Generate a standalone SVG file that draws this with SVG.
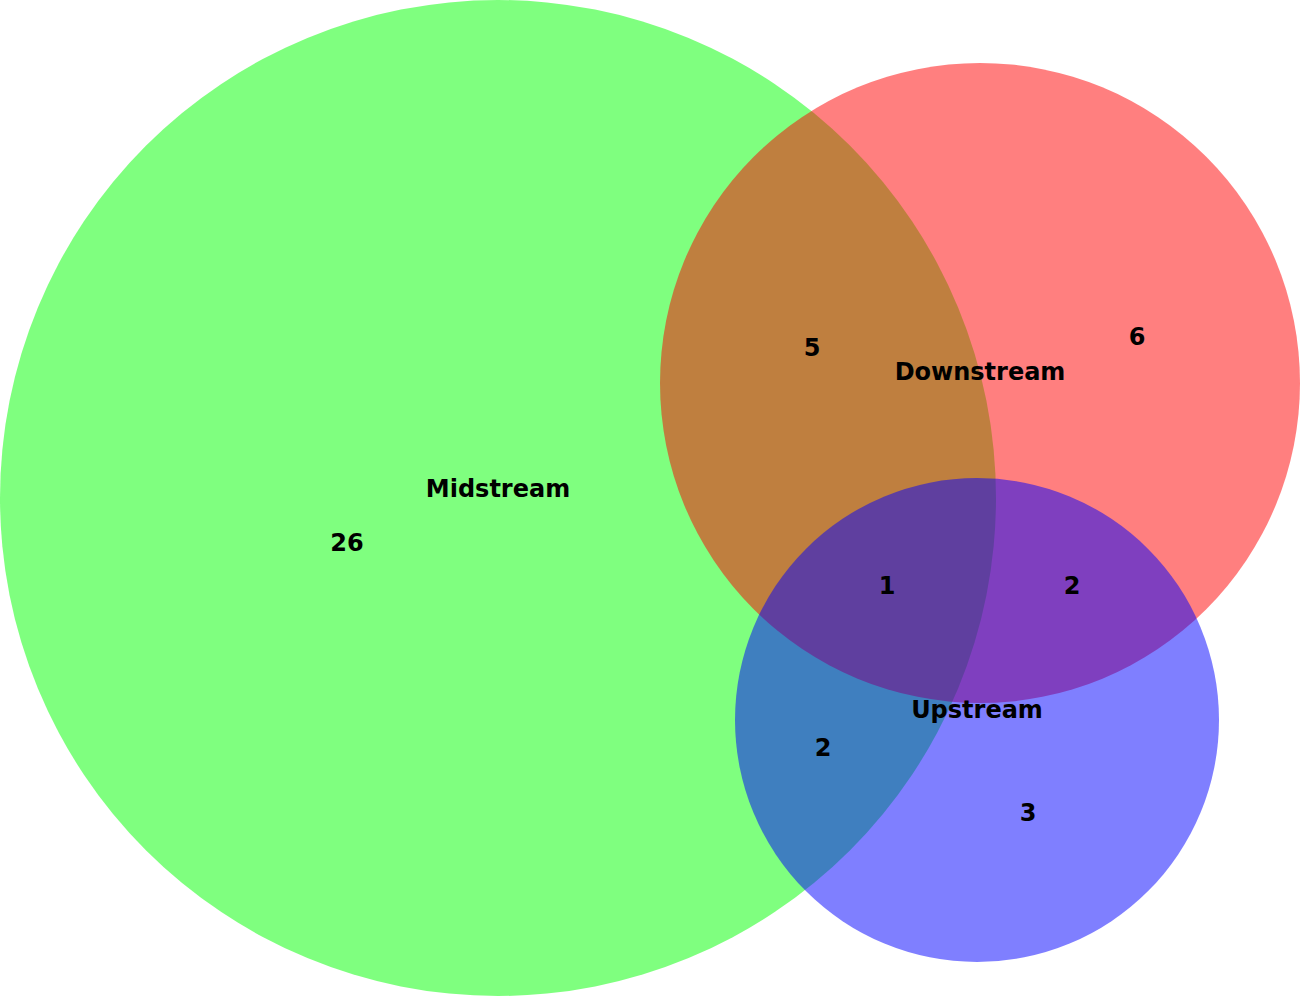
<svg xmlns="http://www.w3.org/2000/svg" width="1300" height="998" viewBox="0 0 1300 998">
<style>
text{font-family:"DejaVu Sans",Verdana,sans-serif;font-weight:bold;font-size:24px;fill:#000;text-anchor:middle;dominant-baseline:middle}
</style>
<rect width="1300" height="998" fill="#fff"/>
<g id="midstream"><circle cx="498" cy="498" r="498" fill="#00ff00" fill-opacity="0.5"/></g>
<g id="downstream"><circle cx="980" cy="383" r="320" fill="#ff0000" fill-opacity="0.5"/></g>
<g id="upstream"><circle cx="977" cy="720" r="242" fill="#0000ff" fill-opacity="0.5"/></g>
<g id="connectors"></g>
<g id="labels">
<text x="498" y="490">Midstream</text>
<text x="980" y="373">Downstream</text>
<text x="977" y="711">Upstream</text>
<text x="347" y="544">26</text>
<text x="812" y="349">5</text>
<text x="1137" y="338">6</text>
<text x="887" y="587">1</text>
<text x="1072" y="587">2</text>
<text x="823" y="749">2</text>
<text x="1028" y="814">3</text>
</g>
</svg>
